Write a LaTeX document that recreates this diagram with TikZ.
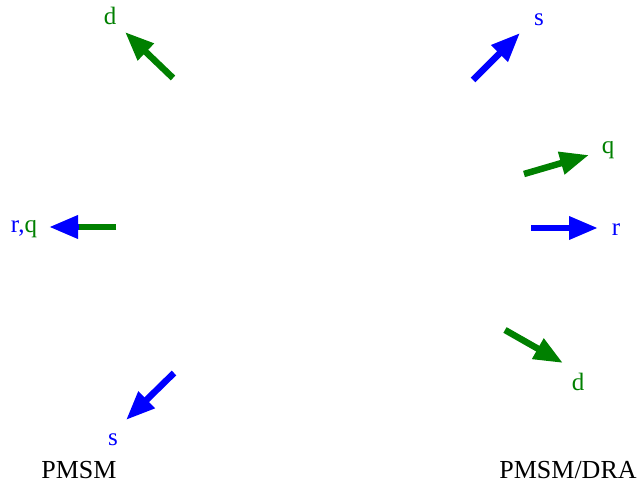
\documentclass[tikz,border=0pt]{standalone}
\usepackage{fontspec}
\setmainfont{Liberation Serif}
\usetikzlibrary{arrows.meta}
\definecolor{dgreen}{RGB}{0,128,0}
\definecolor{dblue}{RGB}{0,0,255}
\tikzset{
  vec/.style={line width=6.5pt, -{Triangle[length=29pt,width=22pt]}},
  lbl/.style={font=\fontsize{25}{27}\selectfont, inner sep=0pt},
  captext/.style={font=\fontsize{26}{29}\selectfont, inner sep=0pt, text=black},
}
\begin{document}
\begin{tikzpicture}[x=1pt,y=-1pt]
\useasboundingbox (0,0) rectangle (638,486);
% coordinates
\coordinate (dT) at (173,78);   \coordinate (dH) at (125,32);
\coordinate (sT) at (473,80);   \coordinate (sH) at (520,33);
\coordinate (qT) at (524,174);  \coordinate (qH) at (589,155);
\coordinate (rT) at (531,228);  \coordinate (rH) at (598,228);
\coordinate (d2T) at (505,330); \coordinate (d2H) at (563,363);
\coordinate (s2T) at (174,373); \coordinate (s2H) at (126,420);
\coordinate (lT) at (116,227);  \coordinate (lH) at (49,227);
\coordinate (lB) at (79,227);
% labels
\node[lbl, text=dgreen] (dL) at (110,16) {d};
\node[lbl, text=dblue] (sL) at (539,20) {s};
\node[lbl, text=dgreen] (qL) at (608,150) {q};
\node[lbl, text=dblue] (rL) at (616,230) {r};
\node[lbl, text=dgreen] (d2L) at (578,382) {d};
\node[lbl, text=dblue] (s2L) at (113,440) {s};
\node[lbl] (rqL) at (24,229) {\textcolor{dblue}{r,}\textcolor{dgreen}{q}};
\node[captext] (pm) at (79,470) {PMSM};
\node[captext] (pmd) at (568,470) {PMSM/DRA};
% arrows
\draw[vec, dgreen] (dT) -- (dH);
\draw[vec, dblue] (sT) -- (sH);
\draw[vec, dgreen] (qT) -- (qH);
\draw[vec, dblue] (rT) -- (rH);
\draw[vec, dgreen] (d2T) -- (d2H);
\draw[vec, dblue] (s2T) -- (s2H);
\draw[vec, dblue] (lT) -- (lH);
\draw[line width=6.5pt, dgreen] (lT) -- (lB);
\end{tikzpicture}
\end{document}
